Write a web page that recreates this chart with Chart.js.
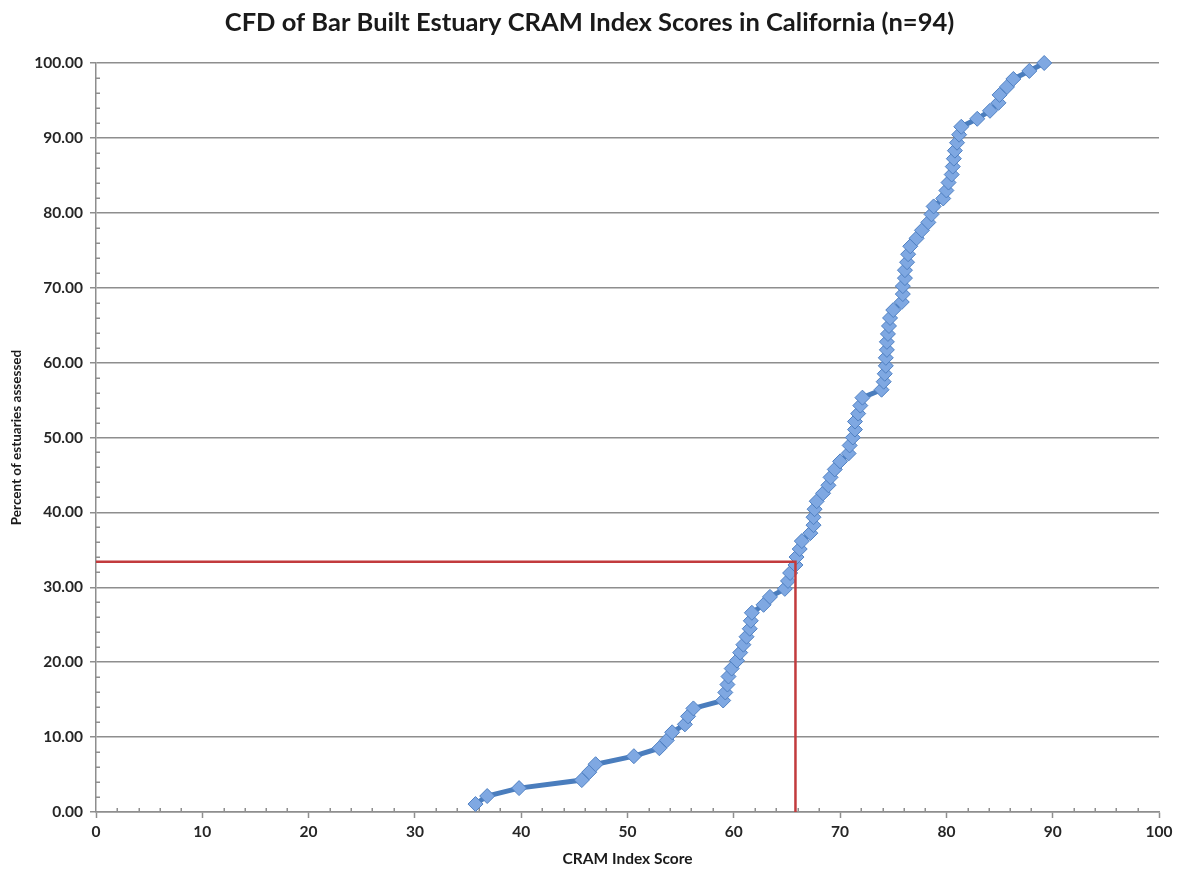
<!DOCTYPE html>
<html>
<head>
<meta charset="utf-8">
<script src="https://cdn.jsdelivr.net/npm/chart.js@4.4.0/dist/chart.umd.min.js"></script>
<style>
  html, body { margin: 0; padding: 0; background: #ffffff; }
  #wrap { width: 1179px; height: 871px; position: relative; }
</style>
</head>
<body>
<div id="wrap"><canvas id="c"></canvas></div>
<script>
// CRAM index scores (sorted)
const scores = [
  35.7, 36.8, 39.8, 45.7, 46.4, 47.0, 50.6, 53.0, 53.7, 54.2,
  55.4, 55.7, 56.2, 59.0, 59.2, 59.4, 59.5, 59.8, 60.3, 60.6,
  60.9, 61.2, 61.5, 61.6, 61.7, 62.8, 63.4, 64.8, 65.1, 65.3,
  65.8, 65.9, 66.2, 66.4, 67.2, 67.5, 67.5, 67.6, 67.8, 68.4,
  68.9, 69.1, 69.5, 70.0, 70.8, 70.9, 71.2, 71.4, 71.4, 71.7,
  71.9, 72.1, 73.9, 74.1, 74.2, 74.3, 74.3, 74.4, 74.4, 74.5,
  74.6, 74.7, 75.0, 75.8, 75.9, 75.9, 76.1, 76.1, 76.3, 76.4,
  76.6, 77.2, 77.7, 78.3, 78.6, 78.8, 79.7, 80.0, 80.2, 80.5,
  80.6, 80.7, 80.8, 81.0, 81.2, 81.4, 82.9, 84.1, 84.9, 85.0,
  85.7, 86.3, 87.8, 89.2
];
// cumulative percent of estuaries assessed
const percents = [
  1.06, 2.13, 3.19, 4.26, 5.32, 6.38, 7.45, 8.51, 9.57, 10.64,
  11.70, 12.77, 13.83, 14.89, 15.96, 17.02, 18.09, 19.15, 20.21, 21.28,
  22.34, 23.40, 24.47, 25.53, 26.60, 27.66, 28.72, 29.79, 30.85, 31.91,
  32.98, 34.04, 35.11, 36.17, 37.23, 38.30, 39.36, 40.43, 41.49, 42.55,
  43.62, 44.68, 45.74, 46.81, 47.87, 48.94, 50.00, 51.06, 52.13, 53.19,
  54.26, 55.32, 56.38, 57.45, 58.51, 59.57, 60.64, 61.70, 62.77, 63.83,
  64.89, 65.96, 67.02, 68.09, 69.15, 70.21, 71.28, 72.34, 73.40, 74.47,
  75.53, 76.60, 77.66, 78.72, 79.79, 80.85, 81.91, 82.98, 84.04, 85.11,
  86.17, 87.23, 88.30, 89.36, 90.43, 91.49, 92.55, 93.62, 94.68, 95.74,
  96.81, 97.87, 98.94, 100.00
];
// reference (red) lines
const refX = [0, 65.8, 65.8];
const refY = [33.4, 33.4, 0];

const titleText = 'CFD of Bar Built Estuary CRAM Index Scores in California (n=94)';
const xTitle = 'CRAM Index Score';
const yTitle = 'Percent of estuaries assessed';

const GRID = '#8e8e8e';
const FONT = 'Lato';

const cfdData = scores.map((s, i) => ({ x: s, y: percents[i] }));
const refData = refX.map((x, i) => ({ x: x, y: refY[i] }));

const minorTicks = {
  id: 'minorTicks',
  beforeDatasetsDraw(chart) {
    const ctx = chart.ctx;
    const xs = chart.scales.x, ys = chart.scales.y;
    ctx.save();
    ctx.strokeStyle = GRID;
    ctx.lineWidth = 1.5;
    ctx.beginPath();
    for (let v = 2; v < 100; v += 2) {
      if (v % 10 === 0) continue;
      const py = Math.round(ys.getPixelForValue(v)) + 0.25;
      ctx.moveTo(xs.left, py); ctx.lineTo(xs.left + 4, py);
      const px = Math.round(xs.getPixelForValue(v)) + 0.25;
      ctx.moveTo(px, ys.bottom); ctx.lineTo(px, ys.bottom - 4);
    }
    ctx.stroke();
    ctx.restore();
  }
};

new Chart(document.getElementById('c'), {
  type: 'scatter',
  data: {
    datasets: [
      {
        data: refData,
        showLine: true,
        borderColor: '#c23b3d',
        borderWidth: 2.5,
        pointRadius: 0,
        tension: 0,
        clip: false
      },
      {
        data: cfdData,
        showLine: true,
        borderColor: '#4a7dbd',
        borderWidth: 5,
        tension: 0,
        clip: false,
        pointStyle: 'rectRot',
        pointRadius: 7.5,
        pointBackgroundColor: '#7fa8e2',
        pointBorderColor: '#4f80c2',
        pointBorderWidth: 1
      }
    ]
  },
  options: {
    responsive: true,
    maintainAspectRatio: false,
    animation: false,
    layout: { padding: { left: 0, right: 0, top: 0, bottom: 0 } },
    plugins: {
      legend: { display: false },
      tooltip: { enabled: false },
      title: {
        display: true,
        text: titleText,
        color: '#1a1a1a',
        font: { family: FONT, size: 25.5, weight: 'bold' },
        padding: { top: 7, bottom: 25.4 }
      }
    },
    scales: {
      x: {
        type: 'linear',
        min: 0, max: 100,
        afterFit(scale) { scale.height = 59; },
        ticks: {
          stepSize: 2,
          autoSkip: false,
          maxRotation: 0,
          padding: 5,
          color: '#262626',
          font: { family: FONT, size: 15.5, weight: 'bold' },
          callback: (v) => (v % 10 === 0 ? String(v) : '')
        },
        grid: {
          drawOnChartArea: false,
          drawTicks: true,
          tickLength: 6,
          tickWidth: 1.5,
          tickColor: (c) => (c.tick && c.tick.value % 10 === 0 ? GRID : 'rgba(0,0,0,0)')
        },
        border: { display: true, color: GRID, width: 1.5 },
        title: {
          display: true,
          text: xTitle,
          color: '#1a1a1a',
          font: { family: FONT, size: 15.5, weight: 'bold' },
          padding: { top: 0, bottom: 3 }
        }
      },
      y: {
        type: 'linear',
        min: 0, max: 100,
        afterFit(scale) { scale.width = 96; },
        ticks: {
          stepSize: 2,
          autoSkip: false,
          padding: 7,
          color: '#262626',
          font: { family: FONT, size: 15.5, weight: 'bold' },
          callback: (v) => (v % 10 === 0 ? v.toFixed(2) : '')
        },
        grid: {
          drawTicks: true,
          tickLength: 6,
          lineWidth: 1.5,
          color: (c) => (c.tick && c.tick.value % 10 === 0 ? GRID : 'rgba(0,0,0,0)'),
          tickColor: (c) => (c.tick && c.tick.value % 10 === 0 ? GRID : 'rgba(0,0,0,0)')
        },
        border: { display: true, color: GRID, width: 1.5 },
        title: {
          display: true,
          text: yTitle,
          color: '#1a1a1a',
          font: { family: FONT, size: 13.5, weight: 'bold' },
          padding: { top: 9, bottom: 0 }
        }
      },
      spacer: {
        type: 'linear',
        position: 'right',
        display: true,
        min: 0, max: 100,
        afterFit(scale) { scale.width = 20; },
        ticks: { display: false },
        grid: { display: false, drawTicks: false },
        border: { display: false }
      }
    }
  },
  plugins: [minorTicks]
});
</script>
</body>
</html>
